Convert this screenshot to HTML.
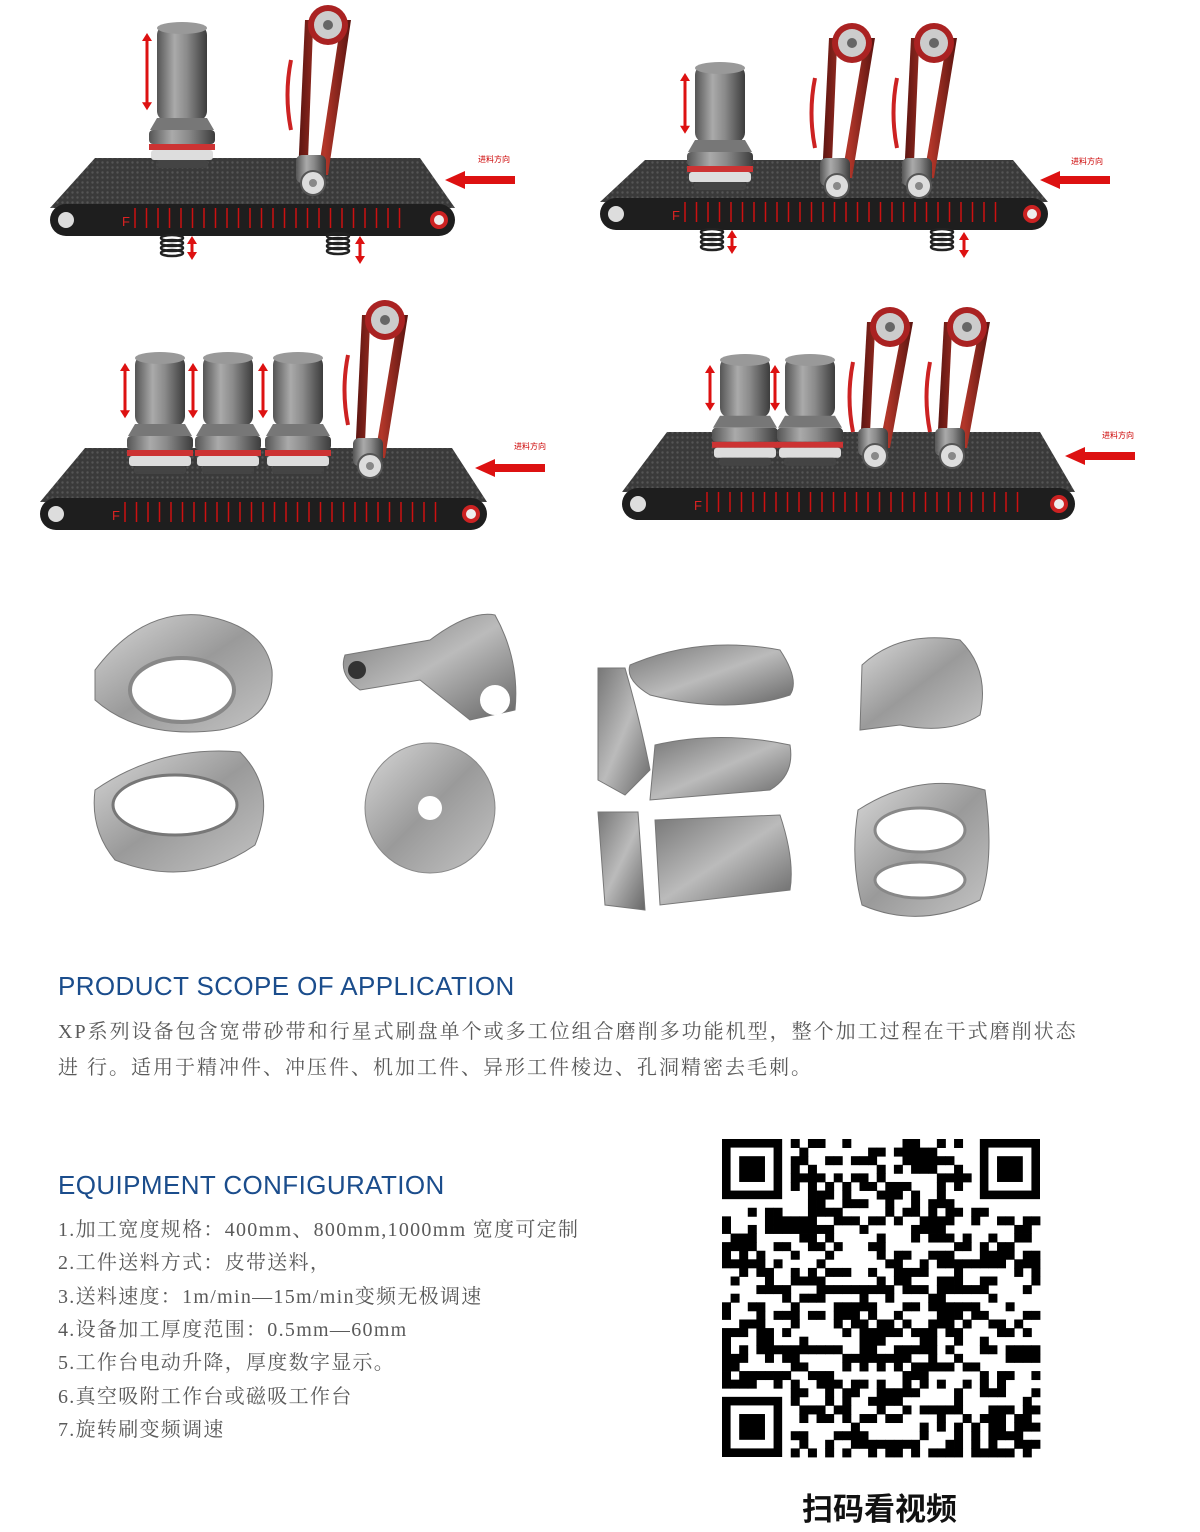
<!DOCTYPE html>
<html><head><meta charset="utf-8">
<style>
html,body{margin:0;padding:0;background:#fff;}
body{width:1200px;height:1532px;position:relative;overflow:hidden;font-family:"Liberation Sans","Noto Sans CJK SC",sans-serif;}
#art{position:absolute;left:0;top:0;}
.h{position:absolute;left:58px;color:#1b4d8c;font-size:26px;letter-spacing:0.4px;font-family:"Liberation Sans",sans-serif;}
.p{position:absolute;left:58px;color:#5a5a5a;font-size:20px;letter-spacing:2px;font-family:"Liberation Serif","Noto Serif CJK SC",serif;white-space:nowrap;}
.l{letter-spacing:1.3px;}
.qrt{position:absolute;left:802px;top:1484px;font-size:31px;font-weight:bold;color:#111;font-family:"Liberation Sans","Noto Sans CJK SC",sans-serif;}
</style></head><body>
<svg id="art" width="1200" height="1532" xmlns="http://www.w3.org/2000/svg">
<defs>
<linearGradient id="cyl" x1="0" x2="1"><stop offset="0" stop-color="#555"/><stop offset="0.35" stop-color="#aaa"/><stop offset="0.6" stop-color="#8a8a8a"/><stop offset="1" stop-color="#3c3c3c"/></linearGradient>
<linearGradient id="beltg" x1="0" x2="1"><stop offset="0" stop-color="#5a1410"/><stop offset="0.5" stop-color="#b3372a"/><stop offset="1" stop-color="#5a1410"/></linearGradient>
<linearGradient id="metal" x1="0" y1="0" x2="1" y2="1"><stop offset="0" stop-color="#d8d8d8"/><stop offset="0.5" stop-color="#9a9a9a"/><stop offset="1" stop-color="#c4c4c4"/></linearGradient>
<linearGradient id="metal2" x1="0" y1="0" x2="1" y2="1"><stop offset="0" stop-color="#777"/><stop offset="0.5" stop-color="#bbb"/><stop offset="1" stop-color="#666"/></linearGradient>
<pattern id="mesh" width="5" height="5" patternUnits="userSpaceOnUse"><rect width="5" height="5" fill="#3a3a3a"/><circle cx="2.5" cy="2.5" r="1.2" fill="#555"/></pattern>
</defs>
<g id="g"></g>
<text x="478" y="162" font-size="8" fill="#c00" font-family="Noto Sans CJK SC">进料方向</text>
<text x="1071" y="164" font-size="8" fill="#c00" font-family="Noto Sans CJK SC">进料方向</text>
<text x="514" y="449" font-size="8" fill="#c00" font-family="Noto Sans CJK SC">进料方向</text>
<text x="1102" y="438" font-size="8" fill="#c00" font-family="Noto Sans CJK SC">进料方向</text>
</svg>
<div class="h" style="top:971px">PRODUCT SCOPE OF APPLICATION</div>
<div class="p" style="top:1015px">XP系列设备包含宽带砂带和行星式刷盘单个或多工位组合磨削多功能机型，整个加工过程在干式磨削状态</div>
<div class="p" style="top:1051px">进 行。适用于精冲件、冲压件、机加工件、异形工件棱边、孔洞精密去毛刺。</div>
<div class="h" style="top:1170px">EQUIPMENT CONFIGURATION</div>
<div class="p l" style="top:1213px">1.加工宽度规格：400mm、800mm,1000mm 宽度可定制</div>
<div class="p l" style="top:1246px">2.工件送料方式：皮带送料，</div>
<div class="p l" style="top:1280px">3.送料速度：1m/min—15m/min变频无极调速</div>
<div class="p l" style="top:1313px">4.设备加工厚度范围：0.5mm—60mm</div>
<div class="p l" style="top:1346px">5.工作台电动升降，厚度数字显示。</div>
<div class="p l" style="top:1380px">6.真空吸附工作台或磁吸工作台</div>
<div class="p l" style="top:1413px">7.旋转刷变频调速</div>
<div class="qrt">扫码看视频</div>
<script>
var NS="http://www.w3.org/2000/svg",G=document.getElementById("g");
function el(t,a){var e=document.createElementNS(NS,t);for(var k in a)e.setAttribute(k,a[k]);G.appendChild(e);return e;}
function conveyor(L,R,T,B,ax,ay){
 el("polygon",{points:(L+45)+","+T+" "+(R-35)+","+T+" "+R+","+(B-28)+" "+L+","+(B-28),fill:"url(#mesh)"});
 el("rect",{x:L,y:B-32,width:R-L,height:32,rx:16,fill:"#1e1e1e"});
 el("circle",{cx:L+16,cy:B-16,r:8,fill:"#ddd"});
 el("circle",{cx:R-16,cy:B-16,r:9,fill:"#c22"});el("circle",{cx:R-16,cy:B-16,r:5,fill:"#eee"});
 el("text",{x:L+72,y:B-10,"font-size":13,fill:"#d22","font-family":"Liberation Sans"}).textContent="F";
 for(var x=L+85;x<R-50;x+=11.5)el("line",{x1:x,y1:B-28,x2:x,y2:B-8,stroke:"#c11","stroke-width":1.5});
 el("polygon",{points:(ax+70)+","+(ay-4)+" "+(ax+20)+","+(ay-4)+" "+(ax+20)+","+(ay-9)+" "+ax+","+ay+" "+(ax+20)+","+(ay+9)+" "+(ax+20)+","+(ay+4)+" "+(ax+70)+","+(ay+4),fill:"#d11"});
}
function arrowV(x,y1,y2){el("line",{x1:x,y1:y1+6,x2:x,y2:y2-6,stroke:"#d11","stroke-width":3});
 el("polygon",{points:(x-5)+","+(y1+8)+" "+x+","+y1+" "+(x+5)+","+(y1+8),fill:"#d11"});
 el("polygon",{points:(x-5)+","+(y2-8)+" "+x+","+y2+" "+(x+5)+","+(y2-8),fill:"#d11"});}
function brush(cx,ty,by,spring){
 el("rect",{x:cx-25,y:ty,width:50,height:(by-ty)*0.62,rx:10,fill:"url(#cyl)"});
 el("ellipse",{cx:cx,cy:ty+3,rx:25,ry:6,fill:"#999"});
 var d=ty+(by-ty)*0.6;
 el("path",{d:"M"+(cx-25)+","+d+" L"+(cx-32)+","+(d+12)+" L"+(cx+32)+","+(d+12)+" L"+(cx+25)+","+d+"Z",fill:"#777"});
 el("rect",{x:cx-33,y:d+12,width:66,height:14,rx:4,fill:"url(#cyl)"});
 el("rect",{x:cx-33,y:d+26,width:66,height:6,fill:"#c33"});
 el("rect",{x:cx-31,y:d+32,width:62,height:10,rx:3,fill:"#ddd"});
 el("rect",{x:cx-26,y:d+42,width:52,height:8,rx:3,fill:"#444"});
 arrowV(cx-35,ty+8,ty+(by-ty)*0.55);
 if(spring){for(var i=0;i<4;i++)el("ellipse",{cx:spring[0],cy:spring[1]+i*5,rx:11,ry:3,fill:"none",stroke:"#222","stroke-width":2.5});
  arrowV(spring[0]+20,spring[1]-2,spring[1]+22);}
}
function belt(cx,ty,by){
 el("path",{d:"M"+(cx-13)+","+(ty+10)+" L"+(cx-20)+","+by+" L"+(cx+10)+","+by+" L"+(cx+33)+","+(ty+10)+"Z",fill:"url(#beltg)"});
 el("path",{d:"M"+(cx-5)+","+(ty+18)+" L"+(cx-10)+","+(by-15)+" L"+(cx+2)+","+(by-15)+" L"+(cx+22)+","+(ty+18)+"Z",fill:"#fff"});
 el("circle",{cx:cx+10,cy:ty+15,r:20,fill:"#a22"});
 el("circle",{cx:cx+10,cy:ty+15,r:14,fill:"#ccc"});el("circle",{cx:cx+10,cy:ty+15,r:5,fill:"#666"});
 el("rect",{x:cx-22,y:by-20,width:30,height:28,rx:6,fill:"url(#cyl)"});
 el("circle",{cx:cx-5,cy:by+8,r:12,fill:"#ddd",stroke:"#555","stroke-width":2});el("circle",{cx:cx-5,cy:by+8,r:4,fill:"#888"});
 el("path",{d:"M"+(cx-27)+","+(ty+50)+" Q"+(cx-34)+","+(ty+85)+" "+(cx-27)+","+(ty+120),stroke:"#c22","stroke-width":4,fill:"none"});
}
conveyor(50,455,158,236,445,180);
brush(182,25,180,[172,238]);belt(318,10,175);
for(var i=0;i<4;i++)el("ellipse",{cx:338,cy:236+i*5,rx:11,ry:3,fill:"none",stroke:"#222","stroke-width":2.5});arrowV(360,236,264);
conveyor(600,1048,160,230,1040,180);
brush(720,65,190,[712,232]);belt(842,28,178);belt(924,28,178);
for(var i=0;i<4;i++)el("ellipse",{cx:942,cy:232+i*5,rx:11,ry:3,fill:"none",stroke:"#222","stroke-width":2.5});arrowV(964,232,258);
conveyor(40,487,448,530,475,468);
brush(160,355,470);brush(228,355,470);brush(298,355,470);belt(375,305,458);
conveyor(622,1075,432,520,1065,456);
brush(745,357,455);brush(810,357,455);belt(880,312,448);belt(957,312,448);
function part(d,f){el("path",{d:d,fill:f||"url(#metal)",stroke:"#777","stroke-width":1});}
part("M95,670 Q140,610 200,615 Q265,625 272,670 Q275,720 220,730 Q140,740 95,700Z");
el("ellipse",{cx:182,cy:690,rx:52,ry:32,fill:"#fff",stroke:"#888","stroke-width":4});
part("M95,790 Q160,745 240,752 Q278,790 255,845 Q190,890 115,860 Q90,830 95,790Z");
el("ellipse",{cx:175,cy:805,rx:62,ry:30,fill:"#fff",stroke:"#777","stroke-width":3});
part("M345,655 L430,640 Q470,610 495,615 Q520,660 515,710 L470,720 L420,680 L360,690 Q338,675 345,655Z","url(#metal2)");
el("circle",{cx:357,cy:670,r:9,fill:"#333"});el("circle",{cx:495,cy:700,r:15,fill:"#fff"});
el("circle",{cx:430,cy:808,r:65,fill:"url(#metal)",stroke:"#888"});el("circle",{cx:430,cy:808,r:12,fill:"#fff"});
part("M630,665 Q700,635 780,650 Q800,680 790,695 Q730,715 650,695 Q625,680 630,665Z","url(#metal2)");
part("M598,668 L625,668 Q640,720 650,770 L625,795 L598,780Z","url(#metal2)");
part("M655,745 Q720,730 790,745 Q795,775 770,790 L650,800Z","url(#metal2)");
part("M598,812 L638,812 L645,910 L605,905Z","url(#metal2)");
part("M655,820 L780,815 Q795,860 790,890 L660,905Z","url(#metal2)");
part("M862,665 Q900,630 960,640 Q990,670 980,715 Q950,735 900,725 L860,730Z");
part("M858,810 Q920,770 985,790 Q995,860 980,900 Q920,930 862,905 Q850,860 858,810Z");
el("ellipse",{cx:920,cy:830,rx:45,ry:22,fill:"#fff",stroke:"#888","stroke-width":3});
el("ellipse",{cx:920,cy:880,rx:45,ry:18,fill:"#fff",stroke:"#888","stroke-width":3});
var N=37,S=318/N,X0=722,Y0=1139,seed=7;function rnd(){seed=(seed*16807)%2147483647;return seed/2147483647;}
for(var r=0;r<N;r++)for(var c=0;c<N;c++){
 var inF=(r<8&&c<8)||(r<8&&c>=N-8)||(r>=N-8&&c<8);if(inF)continue;
 if(rnd()<0.5)el("rect",{x:X0+c*S,y:Y0+r*S,width:S+0.4,height:S+0.4,fill:"#000"});}
[[0,0],[0,N-7],[N-7,0]].forEach(function(p){var x=X0+p[1]*S,y=Y0+p[0]*S;
 el("rect",{x:x,y:y,width:7*S,height:7*S,fill:"#000"});el("rect",{x:x+S,y:y+S,width:5*S,height:5*S,fill:"#fff"});el("rect",{x:x+2*S,y:y+2*S,width:3*S,height:3*S,fill:"#000"});});
</script>
</body></html>
